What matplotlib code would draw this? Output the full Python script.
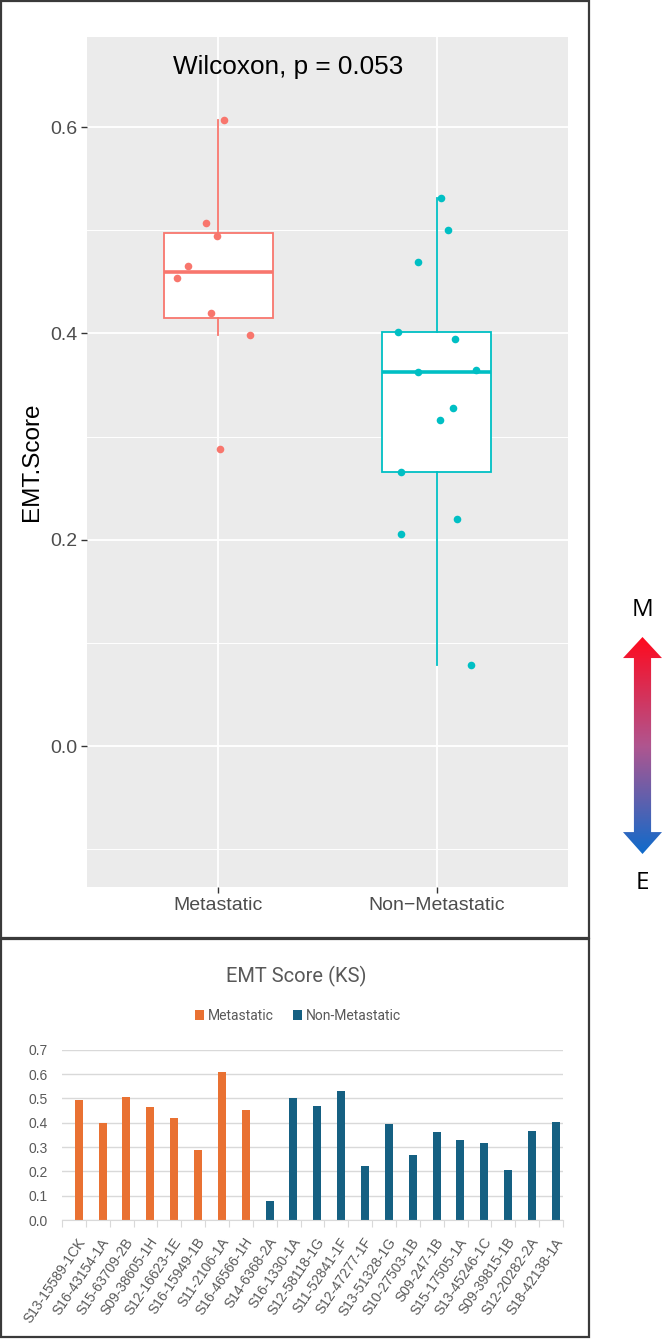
import numpy as np
import matplotlib.pyplot as plt
import matplotlib.colors as mcolors
from matplotlib.patches import Rectangle, Polygon

# samples, scores and jitter offsets
met_samples = ["S13-15589-1CK", "S16-43154-1A", "S15-63709-2B", "S09-38605-1H",
               "S12-16623-1E", "S16-15949-1B", "S11-2106-1A", "S16-46566-1H"]
met_scores = [0.494, 0.398, 0.507, 0.465, 0.420, 0.288, 0.607, 0.454]
met_jitter = [-0.005, 0.146, -0.055, -0.137, -0.032, 0.009, 0.027, -0.188]

non_samples = ["S14-6368-2A", "S16-1330-1A", "S12-58118-1G", "S11-52841-1F",
               "S12-47277-1F", "S13-51328-1G", "S10-27503-1B", "S09-247-1B",
               "S15-17505-1A", "S13-45246-1C", "S09-39815-1B", "S12-20282-2A",
               "S18-42138-1A"]
non_scores = [0.079, 0.500, 0.469, 0.531, 0.220, 0.395, 0.266, 0.363,
              0.328, 0.316, 0.206, 0.365, 0.401]
non_jitter = [0.156, 0.051, -0.086, 0.019, 0.092, 0.083, -0.164, -0.086,
              0.074, 0.015, -0.164, 0.179, -0.178]

categories = ["Metastatic", "Non\u2212Metastatic"]
legend_labels = ["Metastatic", "Non-Metastatic"]
box_ticks = [0.0, 0.2, 0.4, 0.6]
box_minor = [-0.1, 0.1, 0.3, 0.5]
bar_ticks = [0.0, 0.1, 0.2, 0.3, 0.4, 0.5, 0.6, 0.7]
p_label = "Wilcoxon, p = 0.053"

RED, TEAL = "#F8766D", "#00BFC4"
ORANGE, BLUE = "#E97132", "#156082"
W, H = 664, 1339


def fig_rect(x0, y0, x1, y1):
    """pixel box (top-left origin) -> figure fraction rect"""
    return [x0 / W, 1 - y1 / H, (x1 - x0) / W, (y1 - y0) / H]


plt.rcParams['font.family'] = ['Liberation Sans', 'DejaVu Sans']
fig = plt.figure(figsize=(W / 100, H / 100), dpi=100)

# ---------- top: ggplot-style box plot ----------
ax = fig.add_axes(fig_rect(87, 37, 568, 887))
ax.set_facecolor("#EBEBEB")

bp = ax.boxplot([met_scores, non_scores], positions=[1, 2], widths=0.5,
                whis=1.5, showfliers=False, showcaps=False, patch_artist=True,
                zorder=3)
for i, c in enumerate([RED, TEAL]):
    bp["boxes"][i].set(facecolor="white", edgecolor=c, linewidth=1.3)
    bp["medians"][i].set(color=c, linewidth=2.6)
    for wk in bp["whiskers"][2 * i:2 * i + 2]:
        wk.set(color=c, linewidth=1.3)

ax.scatter(1 + np.array(met_jitter), met_scores, s=30, color=RED, lw=0, zorder=4)
ax.scatter(2 + np.array(non_jitter), non_scores, s=30, color=TEAL, lw=0, zorder=4)

ax.set_xlim(0.4, 2.6)
ax.set_ylim(-0.1367, 0.6874)
ax.set_yticks(box_ticks)
ax.set_yticks(box_minor, minor=True)
ax.set_xticks([1, 2], labels=categories)
ax.set_axisbelow(True)
ax.grid(which="major", color="white", lw=1.3)
ax.grid(which="minor", axis="y", color="white", lw=0.7)
for s in ax.spines.values():
    s.set_visible(False)
ax.tick_params(which="major", length=4, width=1, color="#333333",
               labelcolor="#4D4D4D", labelsize=14, pad=3)
ax.tick_params(which="minor", length=0)

ax.text(1.319, 0.658, p_label, ha="center", va="center", fontsize=18.8)
ax.set_ylabel("EMT.Score", fontsize=17.5, va="center")
ax.yaxis.set_label_coords(-0.114, 0.5)

# ---------- gradient arrow M / E ----------
arr = fig.add_axes(fig_rect(623, 637, 662, 854))
arr.set_xlim(0, 1)
arr.set_ylim(0, 1)
arr.axis("off")
grad_cmap = mcolors.LinearSegmentedColormap.from_list(
    "me", ["#0F6BCB", "#B0558F", "#FF0A1E"])
shape = Polygon([(0.5, 1.0), (0.0, 0.903), (0.28, 0.903), (0.28, 0.101),
                 (0.0, 0.101), (0.5, 0.0), (1.0, 0.101), (0.72, 0.101),
                 (0.72, 0.903), (1.0, 0.903)], closed=True,
                facecolor="none", edgecolor="none", transform=arr.transAxes)
arr.add_patch(shape)
im = arr.imshow(np.linspace(0, 1, 256).reshape(-1, 1), cmap=grad_cmap,
                origin="lower", extent=[0, 1, 0, 1], aspect="auto")
im.set_clip_path(shape)
fig.text(642 / W, 1 - 610 / H, "M", fontsize=17.5, ha="center", va="center",
         family=["Open Sans", "DejaVu Sans"])
fig.text(642 / W, 1 - 883 / H, "E", fontsize=17.5, ha="center", va="center",
         family=["Open Sans", "DejaVu Sans"])

# ---------- bottom: Excel-style bar chart ----------
samples = met_samples + non_samples
n = len(samples)
xpos = np.arange(n)
ax2 = fig.add_axes(fig_rect(62, 1049.7, 563, 1220))
ax2.bar(xpos[:len(met_scores)] + 0.2, met_scores, width=0.335, color=ORANGE,
        label=legend_labels[0], zorder=3)
ax2.bar(xpos[len(met_scores):] + 0.2, non_scores, width=0.335, color=BLUE,
        label=legend_labels[1], zorder=3)
ax2.set_xlim(-0.5, n - 0.5)
ax2.set_ylim(0, 0.7)
ax2.set_yticks(bar_ticks, labels=[f"{t:.1f}" for t in bar_ticks])
ax2.yaxis.grid(color="#D9D9D9", lw=1)
ax2.set_axisbelow(True)
for k in ["top", "right", "left"]:
    ax2.spines[k].set_visible(False)
ax2.spines["bottom"].set_color("#D9D9D9")
ax2.spines["bottom"].set_zorder(4)
ax2.set_xticks(np.arange(n + 1) - 0.5, labels=[""] * (n + 1))
ax2.set_xticks(xpos + 0.12, labels=samples, minor=True)
ax2.tick_params(axis="x", which="major", length=5, color="#D9D9D9")
ax2.tick_params(axis="x", which="minor", length=0, pad=11, labelsize=10,
                labelcolor="#595959")
ax2.tick_params(axis="y", length=0, pad=10, labelsize=10, labelcolor="#595959")
for lab in ax2.get_xticklabels(minor=True):
    lab.set_rotation(56)
    lab.set_ha("right")
    lab.set_rotation_mode("anchor")

fig.text(296 / W, 1 - 976 / H, "EMT Score (KS)", fontsize=14.5, color="#595959",
         ha="center", va="center", family=["Roboto", "DejaVu Sans"])
ax2.legend(loc="center", bbox_to_anchor=(298 / W, 1 - 1016 / H),
           bbox_transform=fig.transFigure, ncol=2, frameon=False,
           labelcolor="#595959", handlelength=0.65,
           handleheight=0.65, handletextpad=0.3, columnspacing=1.4,
           prop={"family": ["Roboto", "DejaVu Sans"], "size": 10})

# panel frames
for y0, y1 in [(1, 938), (939, 1337)]:
    fig.patches.append(Rectangle((1 / W, 1 - y1 / H), 588 / W, (y1 - y0) / H,
                                 transform=fig.transFigure, fill=False,
                                 ec="#3A3A3A", lw=1.6))

fig.savefig("out.png", dpi=100)
